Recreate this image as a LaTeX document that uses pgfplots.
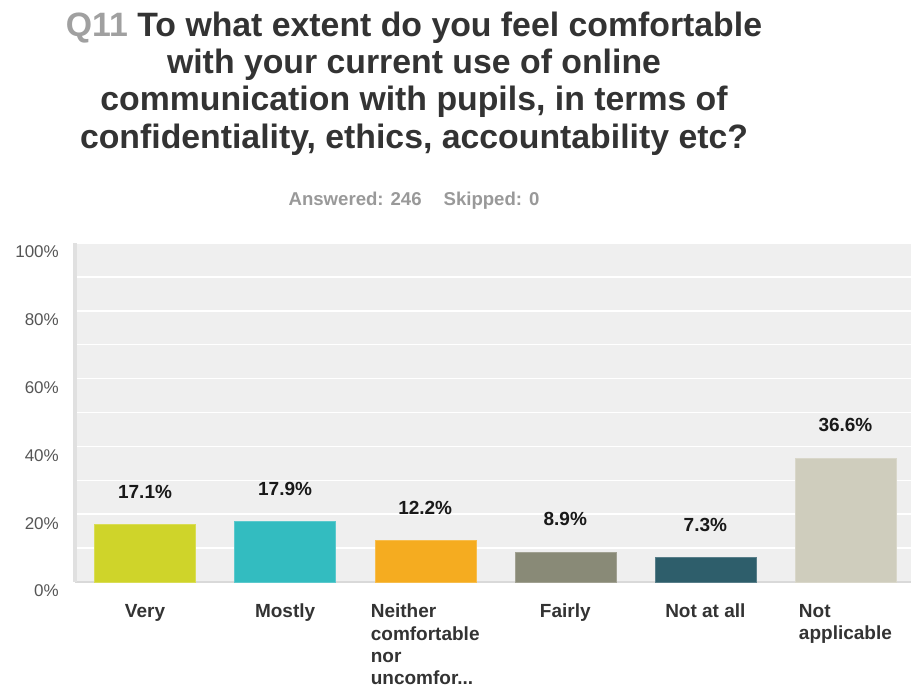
\documentclass[border=0pt]{standalone}
\usepackage{pgfplots}
\pgfplotsset{compat=1.18}
\usepackage{fontspec}
\setmainfont{Liberation Sans}
\definecolor{cVery}{HTML}{CFD42A}
\definecolor{cMostly}{HTML}{33BCC0}
\definecolor{cNeither}{HTML}{F5AC20}
\definecolor{cFairly}{HTML}{898A77}
\definecolor{cNot}{HTML}{2E5E6B}
\definecolor{cNA}{HTML}{CFCDBD}
\definecolor{titlegray}{HTML}{333333}
\definecolor{qgray}{HTML}{A0A0A0}
\definecolor{subgray}{HTML}{999999}
\definecolor{tickgray}{HTML}{555555}
\definecolor{bggray}{HTML}{EFEFEF}
\begin{document}
\begin{tikzpicture}
\path[use as bounding box] (0,0) rectangle (911pt,-688pt);
\begin{scope}[every node/.style={anchor=base, inner sep=0pt, text=titlegray, font=\fontsize{33.8}{38}\selectfont\bfseries}]
\node at (414pt,-36pt) {\textcolor{qgray}{Q11} To what extent do you feel comfortable};
\node at (414pt,-73pt) {with your current use of online};
\node at (414pt,-110pt) {communication with pupils, in terms of};
\node at (414pt,-148pt) {confidentiality, ethics, accountability etc?};
\end{scope}
\node[anchor=base, inner sep=0pt, text=subgray, font=\fontsize{18.6}{22}\selectfont\bfseries] at (414pt,-205pt) {Answered: 246\hspace{22pt}Skipped: 0};
\begin{axis}[
  at={(75pt,-582pt)}, anchor=south west,
  scale only axis, width=836pt, height=339pt,
  ybar, bar width=101pt, bar shift=0pt,
  xmin=-0.5, xmax=5.468, ymin=0, ymax=100,
  clip=false,
  axis background/.style={fill=bggray},
  axis lines*=left,
  x axis line style={draw=black!15, line width=2pt},
  y axis line style={draw=black!12, line width=3.5pt},
  xtick={0,1,2,3,4,5},
  xticklabels={Very, Mostly, {Neither\\comfortable\\nor\\uncomfor{.}{.}{.}}, Fairly, Not at all, {Not\\applicable}},
  xticklabel style={anchor=north, inner sep=0pt, yshift=-22pt, align=left, text=titlegray, font=\fontsize{19}{22.2}\selectfont\bfseries},
  ytick={0,20,40,60,80,100},
  minor ytick={10,30,50,70,90},
  yticklabel={\pgfmathprintnumber{\tick}\%},
  /pgf/number format/assume math mode=true,
  yticklabel style={anchor=east, inner sep=0pt, xshift=-16pt, yshift=-9pt, text=tickgray, font=\fontsize{17}{20}\selectfont},
  major tick length=0pt, minor tick length=0pt,
  ymajorgrids, yminorgrids,
  major grid style={draw=white, line width=1.5pt},
  minor grid style={draw=white, line width=1.5pt},
  nodes near coords={\pgfmathprintnumber[fixed,precision=1,fixed zerofill]{\pgfplotspointmeta}\%},
  every node near coord/.style={anchor=base, inner sep=0pt, yshift=26pt, text=black!90, font=\fontsize{19}{22}\selectfont\bfseries},
]
\addplot[fill=cVery, draw=cVery!80!white] coordinates {(0,17.1)};
\addplot[fill=cMostly, draw=cMostly!80!white] coordinates {(1,17.9)};
\addplot[fill=cNeither, draw=cNeither!80!white] coordinates {(2,12.2)};
\addplot[fill=cFairly, draw=cFairly!80!white] coordinates {(3,8.9)};
\addplot[fill=cNot, draw=cNot!80!white] coordinates {(4,7.3)};
\addplot[fill=cNA, draw=cNA!80!white] coordinates {(5,36.6)};
\end{axis}
\end{tikzpicture}
\end{document}
